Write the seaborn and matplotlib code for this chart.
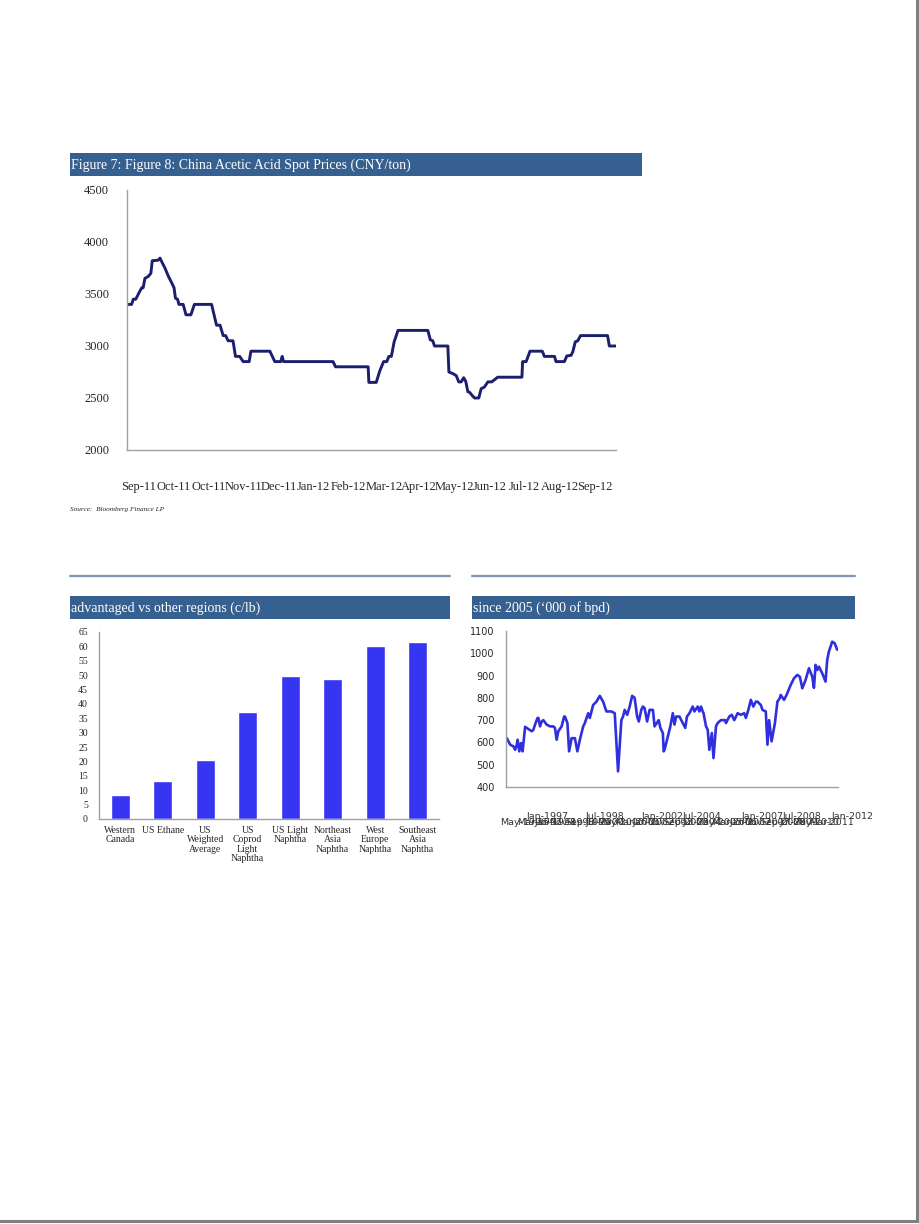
import numpy as np
import matplotlib
matplotlib.use("Agg")
import matplotlib.pyplot as plt
import seaborn as sns
from matplotlib.patches import Rectangle
from matplotlib.lines import Line2D

# ==========================================
# data
# ==========================================
# acetic acid spot price (x = month index from Sep-11)
acetic_x = [0, 0.13, 0.18, 0.25, 0.37, 0.42, 0.46, 0.51, 0.61, 0.68, 0.72, 0.89, 0.94, 0.99,
            1.08, 1.18, 1.27, 1.34, 1.38, 1.44, 1.48, 1.60, 1.68, 1.82, 1.92, 2.41, 2.55, 2.65,
            2.74, 2.81, 2.88, 3.02, 3.09, 3.21, 3.31, 3.48, 3.53, 4.07, 4.21, 4.38, 4.42, 4.46,
            5.87, 5.94, 6.87, 6.89, 7.10, 7.20, 7.31, 7.40, 7.46, 7.53, 7.61, 7.72, 8.57, 8.64,
            8.71, 8.76, 9.14, 9.17, 9.28, 9.38, 9.45, 9.52, 9.59, 9.65, 9.71, 9.76, 9.83, 9.90,
            10.02, 10.09, 10.18, 10.28, 10.39, 10.56, 11.25, 11.27, 11.37, 11.48, 11.83, 11.89,
            12.18, 12.22, 12.46, 12.53, 12.65, 12.70, 12.77, 12.84, 12.92, 13.69, 13.74, 13.93]
acetic_price = [3400, 3400, 3450, 3450, 3530, 3560, 3560, 3650, 3670, 3700, 3820, 3825, 3845, 3810,
                3750, 3670, 3610, 3560, 3460, 3450, 3400, 3400, 3300, 3300, 3400, 3400, 3200, 3200,
                3100, 3100, 3050, 3050, 2900, 2900, 2850, 2850, 2950, 2950, 2850, 2850, 2900, 2850,
                2850, 2800, 2800, 2650, 2650, 2760, 2850, 2850, 2900, 2900, 3040, 3150, 3150, 3060,
                3050, 3000, 3000, 2750, 2735, 2715, 2655, 2655, 2695, 2660, 2560, 2555, 2525, 2500,
                2500, 2590, 2605, 2655, 2655, 2700, 2700, 2850, 2850, 2950, 2950, 2900,
                2900, 2850, 2850, 2905, 2910, 2945, 3040, 3050, 3100, 3100, 3000, 3000]
acetic_months = ["Sep-11", "Oct-11", "Oct-11", "Nov-11", "Dec-11", "Jan-12", "Feb-12",
                 "Mar-12", "Apr-12", "May-12", "Jun-12", "Jul-12", "Aug-12", "Sep-12"]

# ethylene cost by region (c/lb)
regions = ["Western\nCanada", "US Ethane", "US\nWeighted\nAverage", "US\nCoprod\nLight\nNaphtha",
           "US Light\nNaphtha", "Northeast\nAsia\nNaphtha", "West\nEurope\nNaphtha",
           "Southeast\nAsia\nNaphtha"]
region_cost = [8.3, 13.1, 20.4, 37.1, 49.6, 48.7, 60.0, 61.5]

# weekly volume since 2005 ('000 of bpd)
vol_week = [1, 5, 9, 11, 13, 14, 16, 18, 20, 21, 23, 27, 31, 33, 35, 38, 39, 41, 43, 45, 49, 53,
            57, 59, 61, 63, 67, 70, 71, 74, 76, 79, 83, 86, 89, 93, 95, 99, 101, 105, 109, 113,
            117, 121, 127, 131, 135, 139, 141, 143, 146, 149, 152, 155, 158, 160, 163, 165, 167,
            170, 173, 177, 179, 184, 186, 189, 190, 191, 195, 198, 201, 203, 205, 209, 213, 216,
            218, 221, 225, 227, 231, 233, 235, 237, 238, 241, 243, 245, 248, 250, 253, 255, 259,
            264, 265, 269, 272, 275, 279, 283, 287, 289, 292, 295, 298, 301, 303, 307, 309, 313,
            315, 317, 320, 324, 327, 330, 331, 335, 338, 343, 347, 351, 354, 357, 361, 365, 369,
            371, 373, 375, 377, 381, 385, 387, 389, 393, 396, 399]
vol_value = [619, 590, 582, 567, 590, 612, 560, 597, 560, 597, 670, 660, 650, 657, 680, 710, 710,
             672, 694, 700, 680, 672, 672, 665, 612, 650, 672, 716, 716, 687, 560, 619, 619, 560,
             612, 672, 687, 731, 710, 768, 783, 809, 783, 739, 739, 731, 470, 700, 716, 746, 724,
             761, 809, 800, 716, 694, 746, 761, 754, 694, 746, 746, 672, 700, 665, 642, 560, 567,
             627, 672, 731, 680, 716, 716, 687, 665, 716, 731, 761, 739, 761, 739, 761, 739, 731,
             672, 657, 567, 642, 530, 672, 687, 700, 700, 687, 716, 724, 700, 731, 724, 731, 710,
             746, 791, 761, 783, 783, 768, 746, 739, 590, 700, 605, 687, 783, 800, 813, 791, 813,
             858, 888, 903, 895, 843, 881, 933, 895, 845, 948, 925, 940, 910, 873, 970, 1007,
             1052, 1045, 1016]
vol_labels_low = ["May-1996", "Mar-1997", "Jan-1998", "Nov-1998", "Sep-1999", "Jul-2000",
                  "May-2000", "Mar-2001", "Jan-2002", "Nov-2002", "Sep-2003", "Jul-2004",
                  "May-2005", "Mar-2006", "Jan-2007", "Nov-2007", "Sep-2008", "Jul-2009",
                  "May-2010", "Mar-2011"]
vol_labels_high = ["Jan-1997", "Jul-1998", "Jan-2002", "Jul-2004", "Jan-2007", "Jul-2008", "Jan-2012"]

# ==========================================
# style
# ==========================================
sns.set_style("white")
SERIF = ["Liberation Serif", "DejaVu Serif"]
SANS = ["DejaVu Sans"]
plt.rcParams['font.family'] = SERIF

HEADER = "#35608f"
RULE = "#7d95b1"
NAVY = "#1b1f6e"
BLUE_BAR = "#3535f2"
BLUE_LINE = "#2f2fe0"
AXIS_GRAY = "#a0a0a0"

W, H = 920, 1224


def fx(px):
    return px / W


def fy(py):
    return 1 - py / H


def axes_box(fig, left, top, right, bottom):
    return fig.add_axes([fx(left), fy(bottom), (right - left) / W, (bottom - top) / H])


def title_bar(fig, left, top, right, bottom, text):
    fig.patches.append(Rectangle((fx(left), fy(bottom)), (right - left) / W, (bottom - top) / H,
                                 transform=fig.transFigure, facecolor=HEADER, edgecolor='none'))
    fig.text(fx(left + 1), fy((top + bottom) / 2 + 1), text, color='white', fontsize=10,
             family=SERIF, ha='left', va='center')


def rule(fig, left, right, y):
    fig.add_artist(Line2D([fx(left), fx(right)], [fy(y), fy(y)], transform=fig.transFigure,
                          color=RULE, lw=1.6))


def clean_axes(ax):
    for side in ['top', 'right']:
        ax.spines[side].set_visible(False)
    for side in ['left', 'bottom']:
        ax.spines[side].set_color(AXIS_GRAY)
        ax.spines[side].set_linewidth(1.0)
    ax.set_xlabel('')
    ax.set_ylabel('')


fig = plt.figure(figsize=(9.2, 12.24), dpi=100)

# ------------------------------------------
# 1. acetic acid spot prices
# ------------------------------------------
title_bar(fig, 70, 153, 642, 176, "Figure 7: Figure 8: China Acetic Acid Spot Prices (CNY/ton)")
ax1 = axes_box(fig, 127, 190, 616, 450)
sns.lineplot(x=acetic_x, y=acetic_price, ax=ax1, color=NAVY, lw=2.1, sort=False, estimator=None)
clean_axes(ax1)
ax1.set_xlim(0, 13.93)
ax1.set_ylim(2000, 4500)
ax1.set_yticks(range(2000, 4501, 500))
ax1.set_xticks(range(14))
ax1.set_xticklabels([])
ax1.set_xticks(np.arange(14) + 0.32, minor=True)
ax1.set_xticklabels(acetic_months, minor=True)
ax1.tick_params(axis='y', length=4, color=AXIS_GRAY, labelsize=9, pad=9)
ax1.tick_params(axis='x', which='major', length=4, color=AXIS_GRAY, direction='out')
ax1.tick_params(axis='x', which='minor', length=0, labelsize=9, pad=22)
fig.text(fx(70), fy(509), "Source:  Bloomberg Finance LP", fontsize=5.2, style='italic',
         family=SERIF, ha='left', va='center')

# ------------------------------------------
# 2. regional cost bars
# ------------------------------------------
rule(fig, 70, 450, 576)
title_bar(fig, 70, 596, 450, 619, "advantaged vs other regions (c/lb)")
ax2 = axes_box(fig, 99, 632, 439, 819)
sns.barplot(x=regions, y=region_cost, ax=ax2, color=BLUE_BAR, saturation=1, width=0.45)
clean_axes(ax2)
ax2.set_xlim(-0.5, 7.5)
ax2.set_ylim(0, 65)
ax2.set_yticks(range(0, 66, 5))
ax2.set_xticks(np.arange(-0.5, 8, 1))
ax2.set_xticklabels([])
ax2.set_xticks(range(8), minor=True)
ax2.set_xticklabels(regions, minor=True, linespacing=1.05)
ax2.tick_params(axis='y', length=3, color=AXIS_GRAY, labelsize=7, pad=5)
ax2.tick_params(axis='x', which='major', length=3, color=AXIS_GRAY, direction='out')
ax2.tick_params(axis='x', which='minor', length=0, labelsize=7, pad=5)

# ------------------------------------------
# 3. volume since 2005
# ------------------------------------------
rule(fig, 472, 855, 576)
title_bar(fig, 472, 596, 855, 619, "since 2005 (\u2018000 of bpd)")
ax3 = axes_box(fig, 506, 631, 838, 787)
sns.lineplot(x=vol_week, y=vol_value, ax=ax3, color=BLUE_LINE, lw=1.9, sort=False, estimator=None)
clean_axes(ax3)
ax3.set_xlim(0, 400)
ax3.set_ylim(400, 1100)
ax3.set_yticks(range(400, 1101, 100))
tick_pos = 21.2 + np.arange(20) * 19.54
ax3.set_xticks(tick_pos)
ax3.set_xticklabels([])
ax3.tick_params(axis='y', length=3, color=AXIS_GRAY, labelsize=7, pad=5)
ax3.tick_params(axis='x', length=3, color=AXIS_GRAY, direction='out')
for lab in ax3.get_yticklabels():
    lab.set_family(SANS)
high_pos = [49.7, 119.4, 188.4, 236.4, 309.5, 356.4, 417.7]
trans = ax3.get_xaxis_transform()
for x, lab in zip(tick_pos, vol_labels_low):
    ax3.text(x, -0.225, lab, transform=trans, ha='center', va='center', fontsize=6.8,
             family=SANS, color='#333333', clip_on=False)
for x, lab in zip(high_pos, vol_labels_high):
    ax3.text(x, -0.19, lab, transform=trans, ha='center', va='center', fontsize=6.8,
             family=SANS, color='#333333', clip_on=False)

# page border
fig.add_artist(Line2D([fx(917), fx(917)], [fy(0), fy(1221)], transform=fig.transFigure,
                      color='#808080', lw=2.2))
fig.add_artist(Line2D([fx(0), fx(918)], [fy(1221), fy(1221)], transform=fig.transFigure,
                      color='#808080', lw=2.2))

fig.savefig("out.png", dpi=100)
